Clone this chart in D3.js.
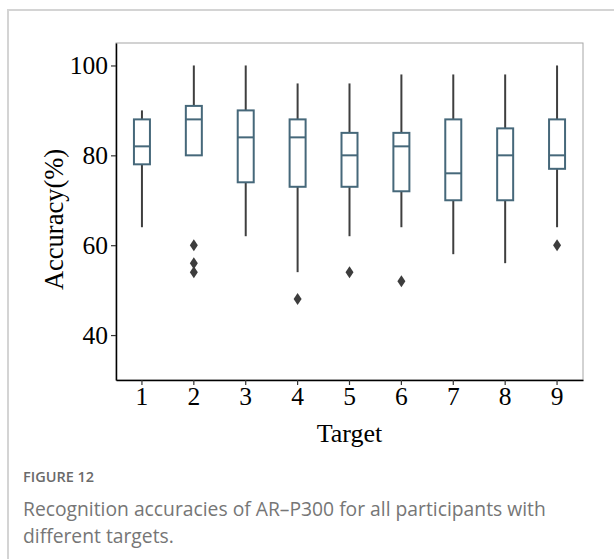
<!DOCTYPE html>
<html lang='en'>
<head>
<meta charset='utf8'>
<title>Figure 12</title>
<script src="https://cdn.jsdelivr.net/npm/d3@7"></script>
<style>
  body { margin: 0; background: #fff; }
  .card { position: absolute; left: 7px; top: 9px; width: 640px; height: 600px;
          border-left: 2px solid #d4d4d4; border-top: 2px solid #d4d4d4; }
  .fig-label { position: absolute; left: 23px; top: 467px; font-family: 'Open Sans', sans-serif;
               font-size: 14.5px; font-weight: 600; color: #6a6a6a; }
  .caption { position: absolute; left: 23px; top: 495px; width: 560px; font-family: 'Open Sans', sans-serif;
             font-size: 19.3px; line-height: 27px; color: #767676; }
  svg { position: absolute; left: 0; top: 0; }
</style>
</head>
<body>
<div class='card'></div>
<svg id='chart' width='614' height='460'></svg>
<div class='fig-label'>FIGURE 12</div>
<div class='caption'>Recognition accuracies of AR&#8211;P300 for all participants with different targets.</div>
<script>
// box stats per target
var targets = ['1', '2', '3', '4', '5', '6', '7', '8', '9'];
var whiskerLow  = [64, 80, 62, 54, 62, 64, 58, 56, 64];
var q1          = [78, 80, 74, 73, 73, 72, 70, 70, 77];
var medians     = [82, 88, 84, 84, 80, 82, 76, 80, 80];
var q3          = [88, 91, 90, 88, 85, 85, 88, 86, 88];
var whiskerHigh = [90, 100, 100, 96, 96, 98, 98, 98, 100];
var outliers    = [[], [60, 56, 54], [], [48], [54], [52], [], [], [60]];
var yTicks = [40, 60, 80, 100];

var svg = d3.select('#chart');
var mLeft = 116, mRight = 583, mTop = 43, mBottom = 380;

var x = d3.scaleBand().domain(targets).range([mLeft, mRight]);
var y = d3.scaleLinear().domain([30, 105]).range([mBottom, mTop]);

var boxColor = '#46687a', lineColor = '#3f3f3f';
var boxW = 16;

// frame
svg.append('rect')
  .attr('x', mLeft).attr('y', mTop)
  .attr('width', mRight - mLeft).attr('height', mBottom - mTop)
  .attr('fill', 'none').attr('stroke', '#a6a6a6').attr('stroke-width', 1);

var data = targets.map(function(t, i) {
  return { t: t, lo: whiskerLow[i], q1: q1[i], med: medians[i], q3: q3[i], hi: whiskerHigh[i], out: outliers[i] };
});

var g = svg.append('g').selectAll('g').data(data).enter().append('g')
  .attr('transform', function(d) { return 'translate(' + (x(d.t) + x.bandwidth() / 2) + ',0)'; });

g.append('line')
  .attr('y1', function(d) { return y(d.hi); }).attr('y2', function(d) { return y(d.q3); })
  .attr('stroke', lineColor).attr('stroke-width', 2);
g.append('line')
  .attr('y1', function(d) { return y(d.q1); }).attr('y2', function(d) { return y(d.lo); })
  .attr('stroke', lineColor).attr('stroke-width', 2);
g.append('rect')
  .attr('x', -boxW / 2).attr('width', boxW)
  .attr('y', function(d) { return y(d.q3); })
  .attr('height', function(d) { return y(d.q1) - y(d.q3); })
  .attr('fill', '#fff').attr('stroke', boxColor).attr('stroke-width', 2);
g.append('line')
  .attr('x1', -boxW / 2).attr('x2', boxW / 2)
  .attr('y1', function(d) { return y(d.med); }).attr('y2', function(d) { return y(d.med); })
  .attr('stroke', boxColor).attr('stroke-width', 2);

// outlier diamonds
g.selectAll('path').data(function(d) { return d.out; }).enter().append('path')
  .attr('d', 'M0,-6L4,0L0,6L-4,0Z')
  .attr('transform', function(v) { return 'translate(0,' + y(v) + ')'; })
  .attr('fill', '#3d3d3d');

// axes
var yAxis = svg.append('g').attr('transform', 'translate(' + mLeft + ',0)')
  .call(d3.axisLeft(y).tickValues(yTicks).tickSize(5).tickSizeOuter(0).tickPadding(3));
var xAxis = svg.append('g').attr('transform', 'translate(0,' + mBottom + ')')
  .call(d3.axisBottom(x).tickSize(5).tickSizeOuter(0).tickPadding(2));

[xAxis, yAxis].forEach(function(a) {
  a.select('.domain').attr('stroke', '#000').attr('stroke-width', 1.5);
  a.selectAll('.tick line').attr('stroke', '#333').attr('stroke-width', 1.2);
  a.selectAll('text').attr('font-family', "'Liberation Serif', serif").attr('font-size', 25.5).attr('fill', '#000');
});

svg.append('text')
  .attr('x', (mLeft + mRight) / 2).attr('y', 442)
  .attr('text-anchor', 'middle')
  .attr('font-family', "'Liberation Serif', serif").attr('font-size', 26)
  .text('Target');

svg.append('text')
  .attr('transform', 'translate(63,' + ((mTop + mBottom) / 2 + 8) + ') rotate(-90)')
  .attr('text-anchor', 'middle')
  .attr('font-family', "'Liberation Serif', serif").attr('font-size', 26.5)
  .text('Accuracy(%)');
</script>
</body>
</html>
